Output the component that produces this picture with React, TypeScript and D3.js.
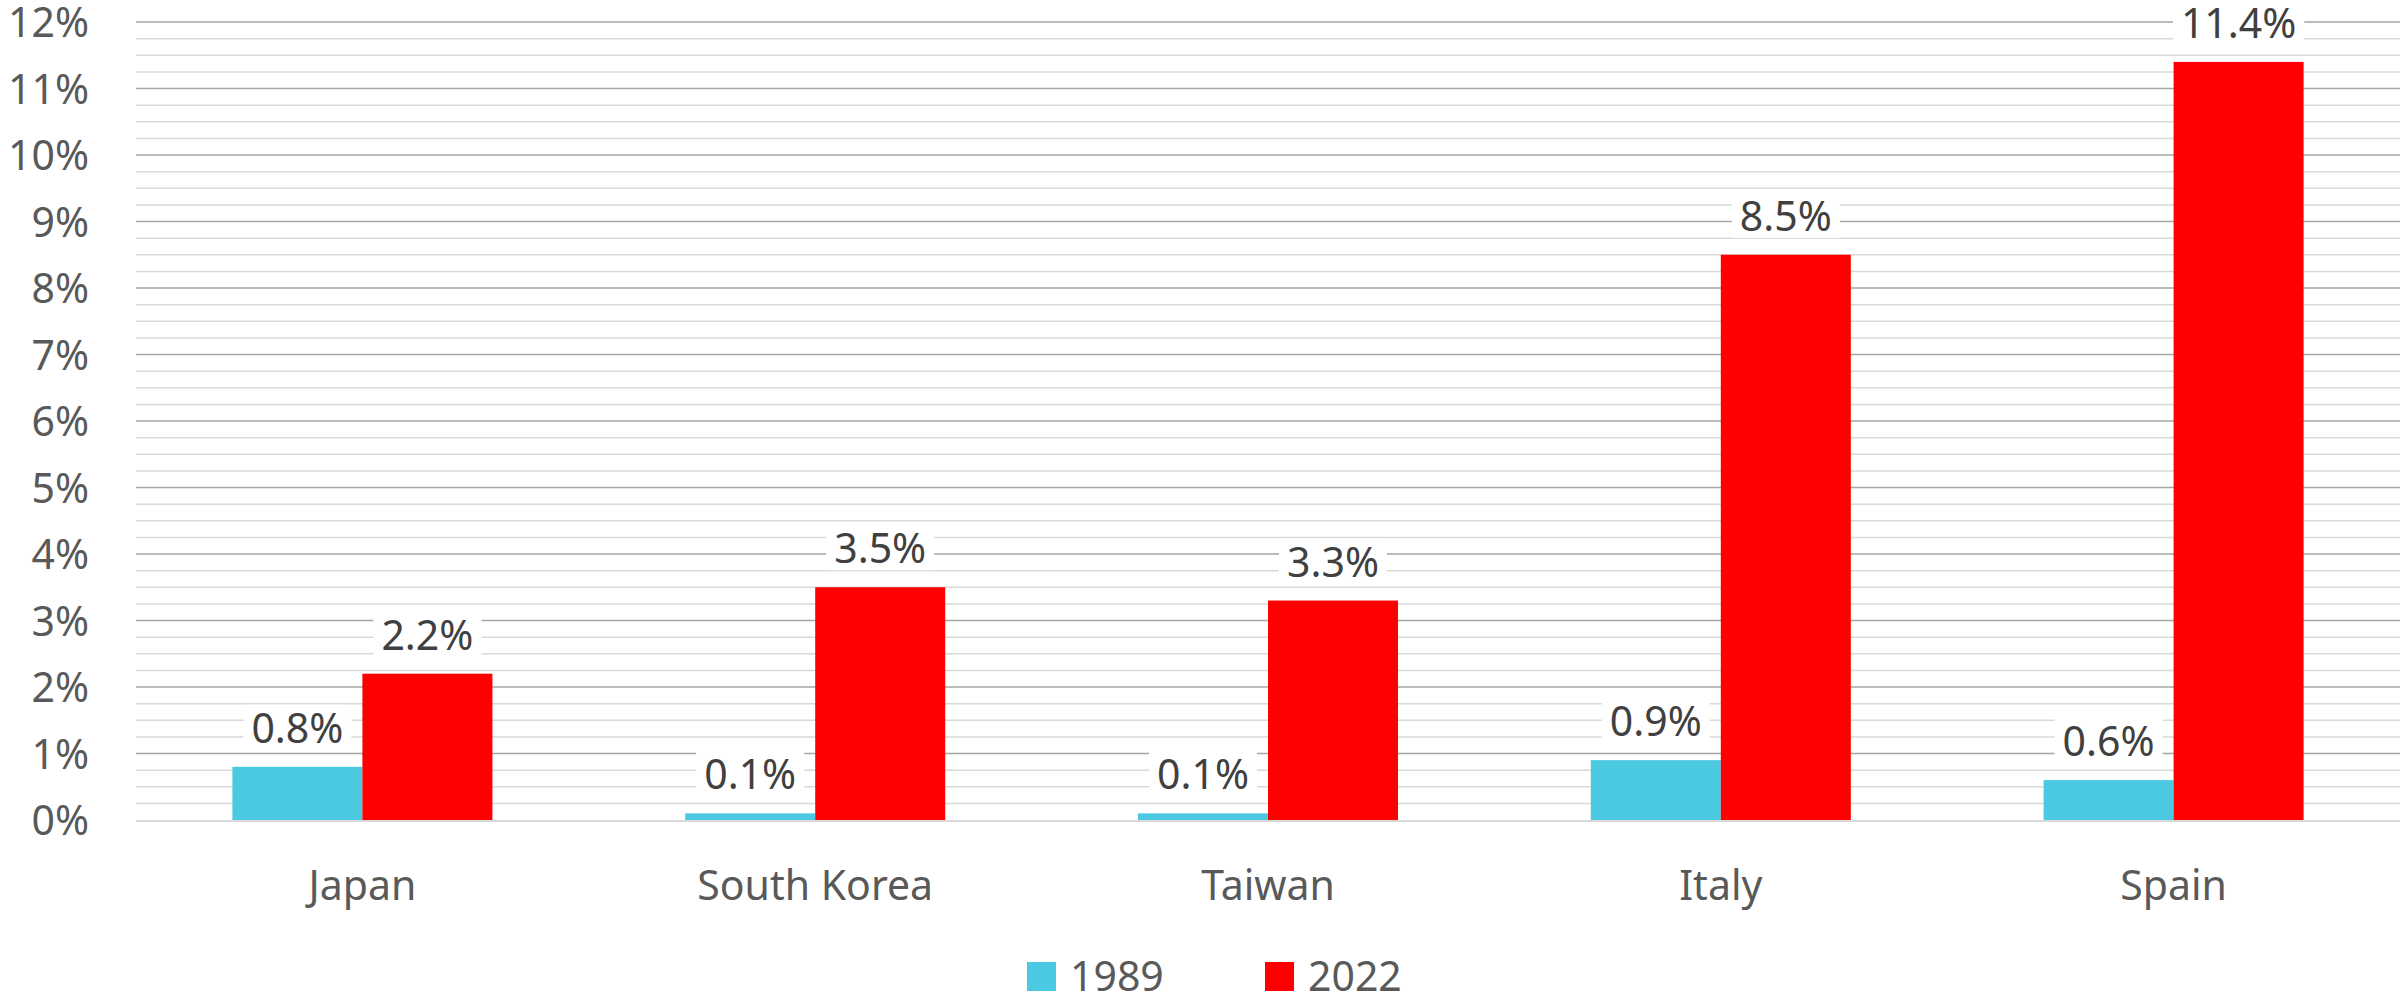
import React, { useEffect, useRef } from "react";
import * as d3 from "d3";

const categories = ["Japan", "South Korea", "Taiwan", "Italy", "Spain"];
const seriesNames = ["1989", "2022"];
const values1989 = [0.8, 0.1, 0.1, 0.9, 0.6];
const values2022 = [2.2, 3.5, 3.3, 8.5, 11.4];
const yTicks = [0, 1, 2, 3, 4, 5, 6, 7, 8, 9, 10, 11, 12];
const colors = ["#4BC9E1", "#FF0000"];

const W = 2402;
const H = 994;
const FONT = "'Noto Sans', sans-serif";

export default function App() {
  const ref = useRef<SVGSVGElement>(null);
  useEffect(() => {
    document.body.style.margin = "0";
    const svg = d3.select(ref.current);
    svg.selectAll("*").remove();
    const left = 136, right = 2400, top = 22, bottom = 820;
    const x = d3.scaleBand<string>().domain(categories).range([left, right]).paddingInner(0).paddingOuter(0);
    const y = d3.scaleLinear().domain([0, 12]).range([bottom, top]);
    const bw = 130;

    // minor gridlines
    const minor = d3.range(0, 12.01, 0.25).filter((v) => Math.abs(v - Math.round(v)) > 0.01);
    svg.append("g").selectAll("line").data(minor).join("line")
      .attr("x1", left).attr("x2", right)
      .attr("y1", (d) => y(d)).attr("y2", (d) => y(d))
      .attr("stroke", "#d9d9d9").attr("stroke-width", 1.5);
    svg.append("g").selectAll("line").data(yTicks.filter((d) => d > 0)).join("line")
      .attr("x1", left).attr("x2", right)
      .attr("y1", (d) => y(d)).attr("y2", (d) => y(d))
      .attr("stroke", "#a6a6a6").attr("stroke-width", 1.5);

    // y tick labels
    svg.append("g").selectAll("text").data(yTicks).join("text")
      .attr("x", 89).attr("y", (d) => y(d) + 15)
      .attr("text-anchor", "end")
      .attr("font-family", FONT).attr("font-size", 41).attr("fill", "#595959")
      .text((d) => d + "%");

    const series = [values1989, values2022];
    const bars = svg.append("g");
    const labels = svg.append("g");
    series.forEach((vals, si) => {
      bars.selectAll("rect.s" + si).data(vals).join("rect")
        .attr("class", "s" + si)
        .attr("x", (_, i) => x(categories[i])! + x.bandwidth() / 2 - bw + si * bw)
        .attr("width", bw)
        .attr("y", (d) => y(d))
        .attr("height", (d) => bottom - y(d))
        .attr("fill", colors[si]);
    });
    // axis line
    svg.append("line").attr("x1", left).attr("x2", right).attr("y1", bottom + 1).attr("y2", bottom + 1)
      .attr("stroke", "#d9d9d9").attr("stroke-width", 2);

    series.forEach((vals, si) => {
      vals.forEach((v, i) => {
        const cx = x(categories[i])! + x.bandwidth() / 2 - bw / 2 + si * bw;
        const g = labels.append("g");
        const rect = g.append("rect").attr("fill", "#fff");
        const t = g.append("text")
          .attr("x", cx).attr("y", y(v) - 24)
          .attr("text-anchor", "middle")
          .attr("font-family", FONT).attr("font-size", 41).attr("fill", "#404040")
          .text(v.toFixed(1) + "%");
        const bb = (t.node() as SVGTextElement).getBBox();
        rect.attr("x", bb.x - 8).attr("width", bb.width + 16)
          .attr("y", y(v) - 62).attr("height", 45);
      });
    });

    // category labels
    svg.append("g").selectAll("text").data(categories).join("text")
      .attr("x", (d) => x(d)! + x.bandwidth() / 2).attr("y", 900)
      .attr("text-anchor", "middle")
      .attr("font-family", FONT).attr("font-size", 41).attr("fill", "#595959")
      .text((d) => d);

    // legend
    const legX = [1027, 1265];
    seriesNames.forEach((n, i) => {
      svg.append("rect").attr("x", legX[i]).attr("y", 962).attr("width", 29).attr("height", 29).attr("fill", colors[i]);
      svg.append("text").attr("x", legX[i] + 43).attr("y", 991)
        .attr("font-family", FONT).attr("font-size", 41).attr("fill", "#595959").text(n);
    });
  }, []);
  return <svg ref={ref} width={W} height={H} style={{ position: "absolute", left: 0, top: 0, background: "#fff" }} />;
}
